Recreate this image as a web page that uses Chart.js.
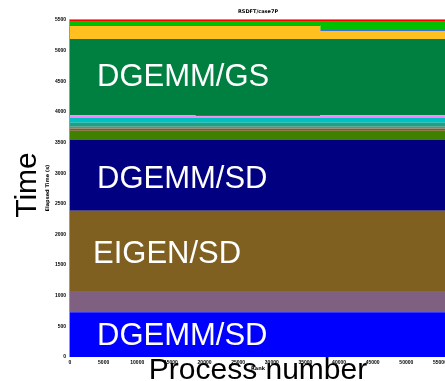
<!DOCTYPE html>
<html>
<head>
<meta charset="utf-8">
<title>RSDFT/case7P</title>
<script src="https://cdn.jsdelivr.net/npm/chart.js@4/dist/chart.umd.min.js"></script>
<style>
    body { margin: 0; background: #ffffff; }
    #wrap { width: 445px; height: 381px; }
</style>
</head>
<body>
<div id="wrap"><canvas id="timeChart" width="445" height="381"></canvas></div>
<script>
// process ranges where the profile changes (rank)
const rankSteps = [0, 18650, 37200, 55750];

// layer thickness (s) for each rank range, bottom to top
const layerNames = [
    'DGEMM/SD', 'misc-1', 'EIGEN/SD', 'DGEMM/SD (2)', 'misc-2', 'misc-3', 'misc-4', 'misc-5',
    'misc-6', 'misc-7', 'misc-8', 'misc-9', 'DGEMM/GS', 'misc-10', 'misc-11', 'misc-12', 'misc-13'
];
const layerValues = [
    [730, 730, 730],
    [347, 347, 347],
    [1311, 1311, 1311],
    [1153, 1153, 1153],
    [131, 131, 131],
    [21, 21, 21],
    [33, 33, 33],
    [33, 33, 33],
    [65, 65, 65],
    [76, 76, 76],
    [45, 30, 45],
    [0, 15, 0],
    [1245, 1245, 1245],
    [212, 212, 130],
    [18, 18, 17],
    [63, 63, 146],
    [17, 17, 17]
];
const layerColors = [
    '#0000ff', '#806080', '#806020', '#000080', '#408000', '#606060', '#806000', '#808080',
    '#20a080', '#00c0c0', '#ff80ff', '#a02000', '#008040', '#ffc020', '#4070d0', '#00c000', '#ff0000'
];

// axis ticks
const yMin = 0;
const yMax = 5500;
const yStep = 500;
const xTicks = [0, 5000, 10000, 15000, 20000, 25000, 30000, 35000, 40000, 45000, 50000, 55000];

// overlay labels
const bigLabels = [
    { text: 'DGEMM/GS', x: 97, y: 86 },
    { text: 'DGEMM/SD', x: 97, y: 188 },
    { text: 'EIGEN/SD', x: 93, y: 263 },
    { text: 'DGEMM/SD', x: 97, y: 345 }
];

document.addEventListener('DOMContentLoaded', function() {
    const ctx = document.getElementById('timeChart').getContext('2d');

    const datasets = layerValues.map((vals, i) => {
        const pts = rankSteps.map((r, j) => ({ x: r, y: vals[Math.min(j, vals.length - 1)] }));
        return {
            label: layerNames[i],
            data: pts,
            backgroundColor: layerColors[i],
            borderColor: layerColors[i],
            borderWidth: 0,
            pointRadius: 0,
            stepped: true,
            fill: i === 0 ? 'origin' : '-1'
        };
    });

    // texts drawn on top of the plot
    const overlayText = {
        id: 'overlayText',
        afterDraw(chart) {
            const c = chart.ctx;
            const area = chart.chartArea;
            c.save();

            // frame (just outside the plot so the top layer stays visible)
            c.strokeStyle = '#999999';
            c.lineWidth = 1;
            c.beginPath();
            c.moveTo(area.left - 0.5, area.bottom);
            c.lineTo(area.left - 0.5, area.top - 0.5);
            c.lineTo(area.right, area.top - 0.5);
            c.stroke();

            c.fillStyle = '#ffffff';
            c.font = '31px "Liberation Sans", Arial, sans-serif';
            c.textAlign = 'left';
            c.textBaseline = 'alphabetic';
            bigLabels.forEach((l) => c.fillText(l.text, l.x, l.y));

            c.fillStyle = '#000000';
            c.font = 'bold 5px "DejaVu Sans", sans-serif';
            c.textAlign = 'center';
            c.textBaseline = 'middle';
            c.fillText('RSDFT/case7P', 258, 12);
            c.fillText('Rank', 258, 369);
            c.save();
            c.translate(48, 188);
            c.rotate(-Math.PI / 2);
            c.fillText('Elapsed Time (s)', 0, 0);
            c.restore();

            c.font = '30px "Liberation Sans", Arial, sans-serif';
            c.textBaseline = 'alphabetic';
            c.fillText('Process number', 258, 379);
            c.save();
            c.translate(36, 185);
            c.rotate(-Math.PI / 2);
            c.fillText('Time', 0, 0);
            c.restore();

            c.restore();
        }
    };

    new Chart(ctx, {
        type: 'line',
        data: { datasets: datasets },
        options: {
            responsive: false,
            animation: false,
            layout: { padding: { top: 20, left: 0, right: 0, bottom: 0 } },
            plugins: {
                legend: { display: false },
                tooltip: { enabled: false }
            },
            scales: {
                x: {
                    type: 'linear',
                    min: 0,
                    max: rankSteps[rankSteps.length - 1],
                    grid: { display: false, drawTicks: true, tickLength: 2 },
                    border: { display: false },
                    ticks: {
                        autoSkip: false,
                        maxRotation: 0,
                        padding: 1,
                        color: '#000000',
                        font: { size: 5, weight: 'bold' },
                        callback: function(value) { return String(value); }
                    },
                    afterBuildTicks: function(scale) {
                        scale.ticks = xTicks.map((v) => ({ value: v }));
                    },
                    afterFit: function(scale) {
                        scale.height = 24;
                        // let the last label run off the edge like the original
                        scale.paddingLeft = 0;
                        scale.paddingRight = 0;
                    }
                },
                y: {
                    stacked: true,
                    min: yMin,
                    max: yMax,
                    grid: { display: false, drawTicks: true, tickLength: 2 },
                    border: { display: false },
                    ticks: {
                        stepSize: yStep,
                        padding: 2,
                        color: '#000000',
                        font: { size: 5, weight: 'bold' },
                        callback: function(value) { return String(value); }
                    },
                    afterFit: function(scale) {
                        scale.width = 70;
                        scale.paddingTop = 0;
                        scale.paddingBottom = 0;
                    }
                }
            }
        },
        plugins: [overlayText]
    });
});
</script>
</body>
</html>
